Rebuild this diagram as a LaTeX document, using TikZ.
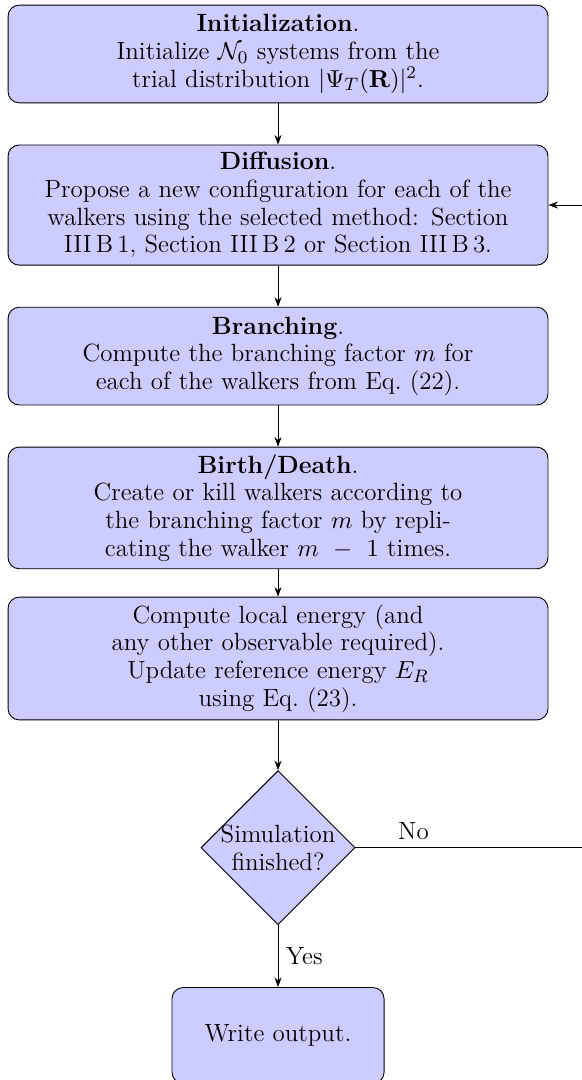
\documentclass[tikz,border=0pt]{standalone}
\usepackage{amsmath,amssymb}
\usepackage{xcolor}
\usepackage{tikz}
\usetikzlibrary{positioning,arrows.meta,shapes.geometric}
\definecolor{boxfill}{HTML}{CCCCFF}

\begin{document}
\begin{tikzpicture}[font=\fontsize{11.1}{12.3}\selectfont,>={Stealth[length=1.5mm,width=1.1mm]},
 blk/.style={draw,fill=boxfill,rounded corners=5pt,align=center,text width=8.1cm,minimum width=8.45cm},
 dec/.style={draw,fill=boxfill,diamond,aspect=1,align=center,inner sep=-1pt,minimum size=2.41cm}]
\useasboundingbox (0,0) rectangle (9.093,-16.902);
\node[blk,minimum height=1.53cm] (init) at (4.351,-0.845) {\textbf{Initialization}.\\Initialize $\mathcal{N}_0$ systems from the\\trial distribution $|\Psi_T(\mathbf{R})|^2$.};
\node[blk,minimum height=1.88cm,below=0.645cm of init] (diff) {\textbf{Diffusion}.\\Propose a new configuration for each of the\\walkers using the selected method: Section\\III\,B\,1, Section III\,B\,2 or Section III\,B\,3.};
\node[blk,minimum height=1.53cm,below=0.645cm of diff] (branch) {\textbf{Branching}.\\Compute the branching factor $m$ for\\each of the walkers from Eq.~(22).};
\node[blk,minimum height=1.89cm,below=0.645cm of branch] (birth) {\textbf{Birth/Death}.\\Create or kill walkers according to\\the branching factor $m$ by repli-\\cating the walker $m\,-\,1$ times.};
\node[blk,minimum height=1.92cm,below=0.43cm of birth] (comp) {Compute local energy (and\\any other observable required).\\Update reference energy $E_R$\\using Eq.~(23).};
\node[dec,below=0.78cm of comp] (sim) {Simulation\\finished?};
\node[blk,text width=3cm,minimum width=3.32cm,minimum height=1.5cm,below=0.97cm of sim] (out) {Write output.};
\coordinate[right=3.63cm of sim.east] (back);
\draw[->] (init)--(diff);
\draw[->] (diff)--(branch);
\draw[->] (branch)--(birth);
\draw[->] (birth)--(comp);
\draw[->] (comp)--(sim);
\draw[->] (sim)-- node[right]{Yes} (out);
\draw[->] (sim.east)-- node[above,near start]{No} (back) |- (diff.east);
\end{tikzpicture}
\end{document}
